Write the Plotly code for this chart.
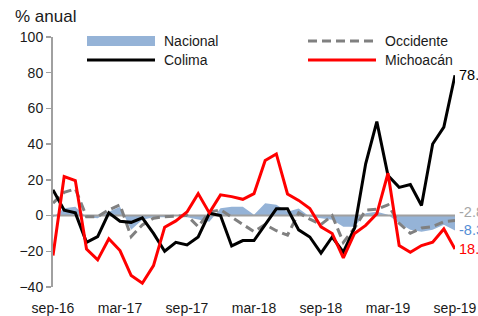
import plotly.graph_objects as go

# ---- data -------------------------------------------------------------
month_names = ["sep", "oct", "nov", "dic", "ene", "feb", "mar", "abr", "may", "jun", "jul", "ago"]
start_year = 16
n_points = 37
months = []
for k in range(n_points):
    m = month_names[k % 12]
    yr = start_year + (k + 8) // 12  # sep is month 9
    months.append(f"{m}-{yr:02d}")

nacional = [-1.0, 4.1, 5.0, -1.0, -1.5, 2.2, 5.0, -8.0, -2.4, -1.0, -1.0, 0.0, -1.0,
            -2.4, -3.4, 4.1, 5.0, 5.0, 0.4, 6.9, 6.0, 2.2, 4.0, -0.6, -1.5, -2.4,
            -6.2, -6.2, 1.3, 2.2, 0.4, -4.3, -8.0, -9.0, -8.0, -5.2, -8.3]
occidente = [7.0, 13.0, 15.0, -0.6, -0.6, 3.2, 6.0, -11.8, -5.2, -1.5, -0.6, -0.5, 0.0,
             -6.2, 2.0, 3.2, -1.0, -5.0, -9.0, -5.0, -8.5, -11.0, 1.5, -2.0, -5.0, 0.0,
             -15.0, -7.0, 3.0, 3.5, 6.0, -4.3, -9.9, -7.0, -6.2, -3.4, -2.8]
colima = [14.4, 3.0, 1.5, -15.0, -11.8, 1.5, -3.2, -3.8, -1.3, -10.0, -20.0, -15.0, -16.4,
          -12.0, 1.3, 0.0, -17.0, -14.0, -14.0, -5.0, 3.8, 3.8, -8.0, -12.0, -21.0, -12.0,
          -20.5, -7.0, 29.0, 52.6, 22.4, 15.8, 17.4, 5.6, 40.1, 49.5, 78.6]
michoacan = [-22.4, 21.8, 19.6, -18.7, -24.8, -13.0, -19.6, -33.6, -37.9, -28.0, -6.5, -3.0,
             2.0, 12.3, 1.5, 11.6, 10.6, 9.1, 12.3, 30.8, 34.5, 12.1, 8.5, 4.0, -6.3, -10.0,
             -23.7, -10.0, -5.5, 1.0, 23.7, -16.8, -20.5, -16.8, -14.9, -7.5, -18.7]

tick_labels = months[::6]
y_ticks = [-40, -20, 0, 20, 40, 60, 80, 100]

end_labels = [
    ("78.6", colima[-1], "#000000", 0),
    ("-2.8", occidente[-1], "#A6A6A6", 9),
    ("-8.3", nacional[-1], "#558ED5", 0),
    ("18.7", michoacan[-1], "#FF0000", 0),
]

# ---- styling -----------------------------------------------------------
FONT = "Liberation Sans, Arial, sans-serif"
C_NAC = "#95B3D7"
C_OCC = "#808080"
C_COL = "#000000"
C_MIC = "#FF0000"
AXIS = "#A0A0A0"

W, H = 478, 316
ML, MR, MT, MB = 53, 23, 37, 29
PW, PH = W - ML - MR, H - MT - MB


def px(xp):
    return (xp - ML) / PW


def py(yp):
    return (H - MB - yp) / PH


fig = go.Figure()
fig.add_trace(go.Scatter(x=months, y=nacional, mode="lines", fill="tozeroy",
                         fillcolor=C_NAC, line=dict(width=0, color=C_NAC),
                         name="Nacional", hoverinfo="skip"))
fig.add_trace(go.Scatter(x=months, y=[0 for _ in months], mode="lines",
                         line=dict(color=AXIS, width=2), hoverinfo="skip", name="cero"))
fig.add_trace(go.Scatter(x=months, y=occidente, mode="lines",
                         line=dict(color=C_OCC, width=3, dash="9px,5px"), name="Occidente"))
fig.add_trace(go.Scatter(x=months, y=colima, mode="lines",
                         line=dict(color=C_COL, width=3), name="Colima"))
fig.add_trace(go.Scatter(x=months, y=michoacan, mode="lines",
                         line=dict(color=C_MIC, width=3), name="Michoacán"))

annotations = []
for text, val, col, ysh in end_labels:
    annotations.append(dict(x=months[-1], y=val, xref="x", yref="y", text=text,
                            showarrow=False, xanchor="left", yanchor="middle",
                            xshift=2, yshift=ysh, font=dict(family=FONT, size=14.5, color=col)))

annotations.append(dict(x=px(13), y=py(17), xref="paper", yref="paper", text="% anual",
                        showarrow=False, xanchor="left", yanchor="middle",
                        font=dict(family=FONT, size=17, color="#1a1a1a")))

legend_items = [
    ("Nacional", 87, 41, "area", C_NAC),
    ("Colima", 87, 60, "line", C_COL),
    ("Occidente", 308, 41, "dash", C_OCC),
    ("Michoacán", 308, 60, "line", C_MIC),
]
shapes = []
for name, x0, yc, kind, col in legend_items:
    x1 = x0 + 68
    if kind == "area":
        shapes.append(dict(type="rect", xref="paper", yref="paper",
                           x0=px(x0), x1=px(x1), y0=py(yc + 5), y1=py(yc - 5),
                           fillcolor=col, line=dict(width=0)))
    else:
        shapes.append(dict(type="line", xref="paper", yref="paper",
                           x0=px(x0), x1=px(x1), y0=py(yc), y1=py(yc),
                           line=dict(color=col, width=3,
                                     dash="9px,5px" if kind == "dash" else "solid")))
    annotations.append(dict(x=px(x1 + 7), y=py(yc), xref="paper", yref="paper", text=name,
                            showarrow=False, xanchor="left", yanchor="middle",
                            font=dict(family=FONT, size=14, color="#1a1a1a")))

fig.update_layout(
    width=W, height=H,
    margin=dict(l=ML, r=MR, t=MT, b=MB, pad=0, autoexpand=False),
    paper_bgcolor="white", plot_bgcolor="white",
    showlegend=False,
    font=dict(family=FONT, size=14, color="#1a1a1a"),
    annotations=annotations,
    shapes=shapes,
)
fig.update_xaxes(type="category", range=[0, len(months) - 1], showgrid=False, zeroline=False,
                 showline=False, ticks="", tickmode="array", tickvals=tick_labels,
                 ticktext=tick_labels, ticklabelstandoff=11, automargin=False,
                 tickfont=dict(family=FONT, size=14, color="#1a1a1a"))
fig.update_yaxes(range=[-40, 100], tickvals=y_ticks, showgrid=False, zeroline=False,
                 showline=True, linecolor=AXIS, linewidth=2, ticks="outside", ticklen=5,
                 tickwidth=1.5, tickcolor=AXIS, automargin=False,
                 tickfont=dict(family=FONT, size=14, color="#1a1a1a"))

fig.write_html("out.html", config={"displayModeBar": False, "staticPlot": True},
               post_script="document.body.style.margin='0';document.body.style.overflow='hidden';")
